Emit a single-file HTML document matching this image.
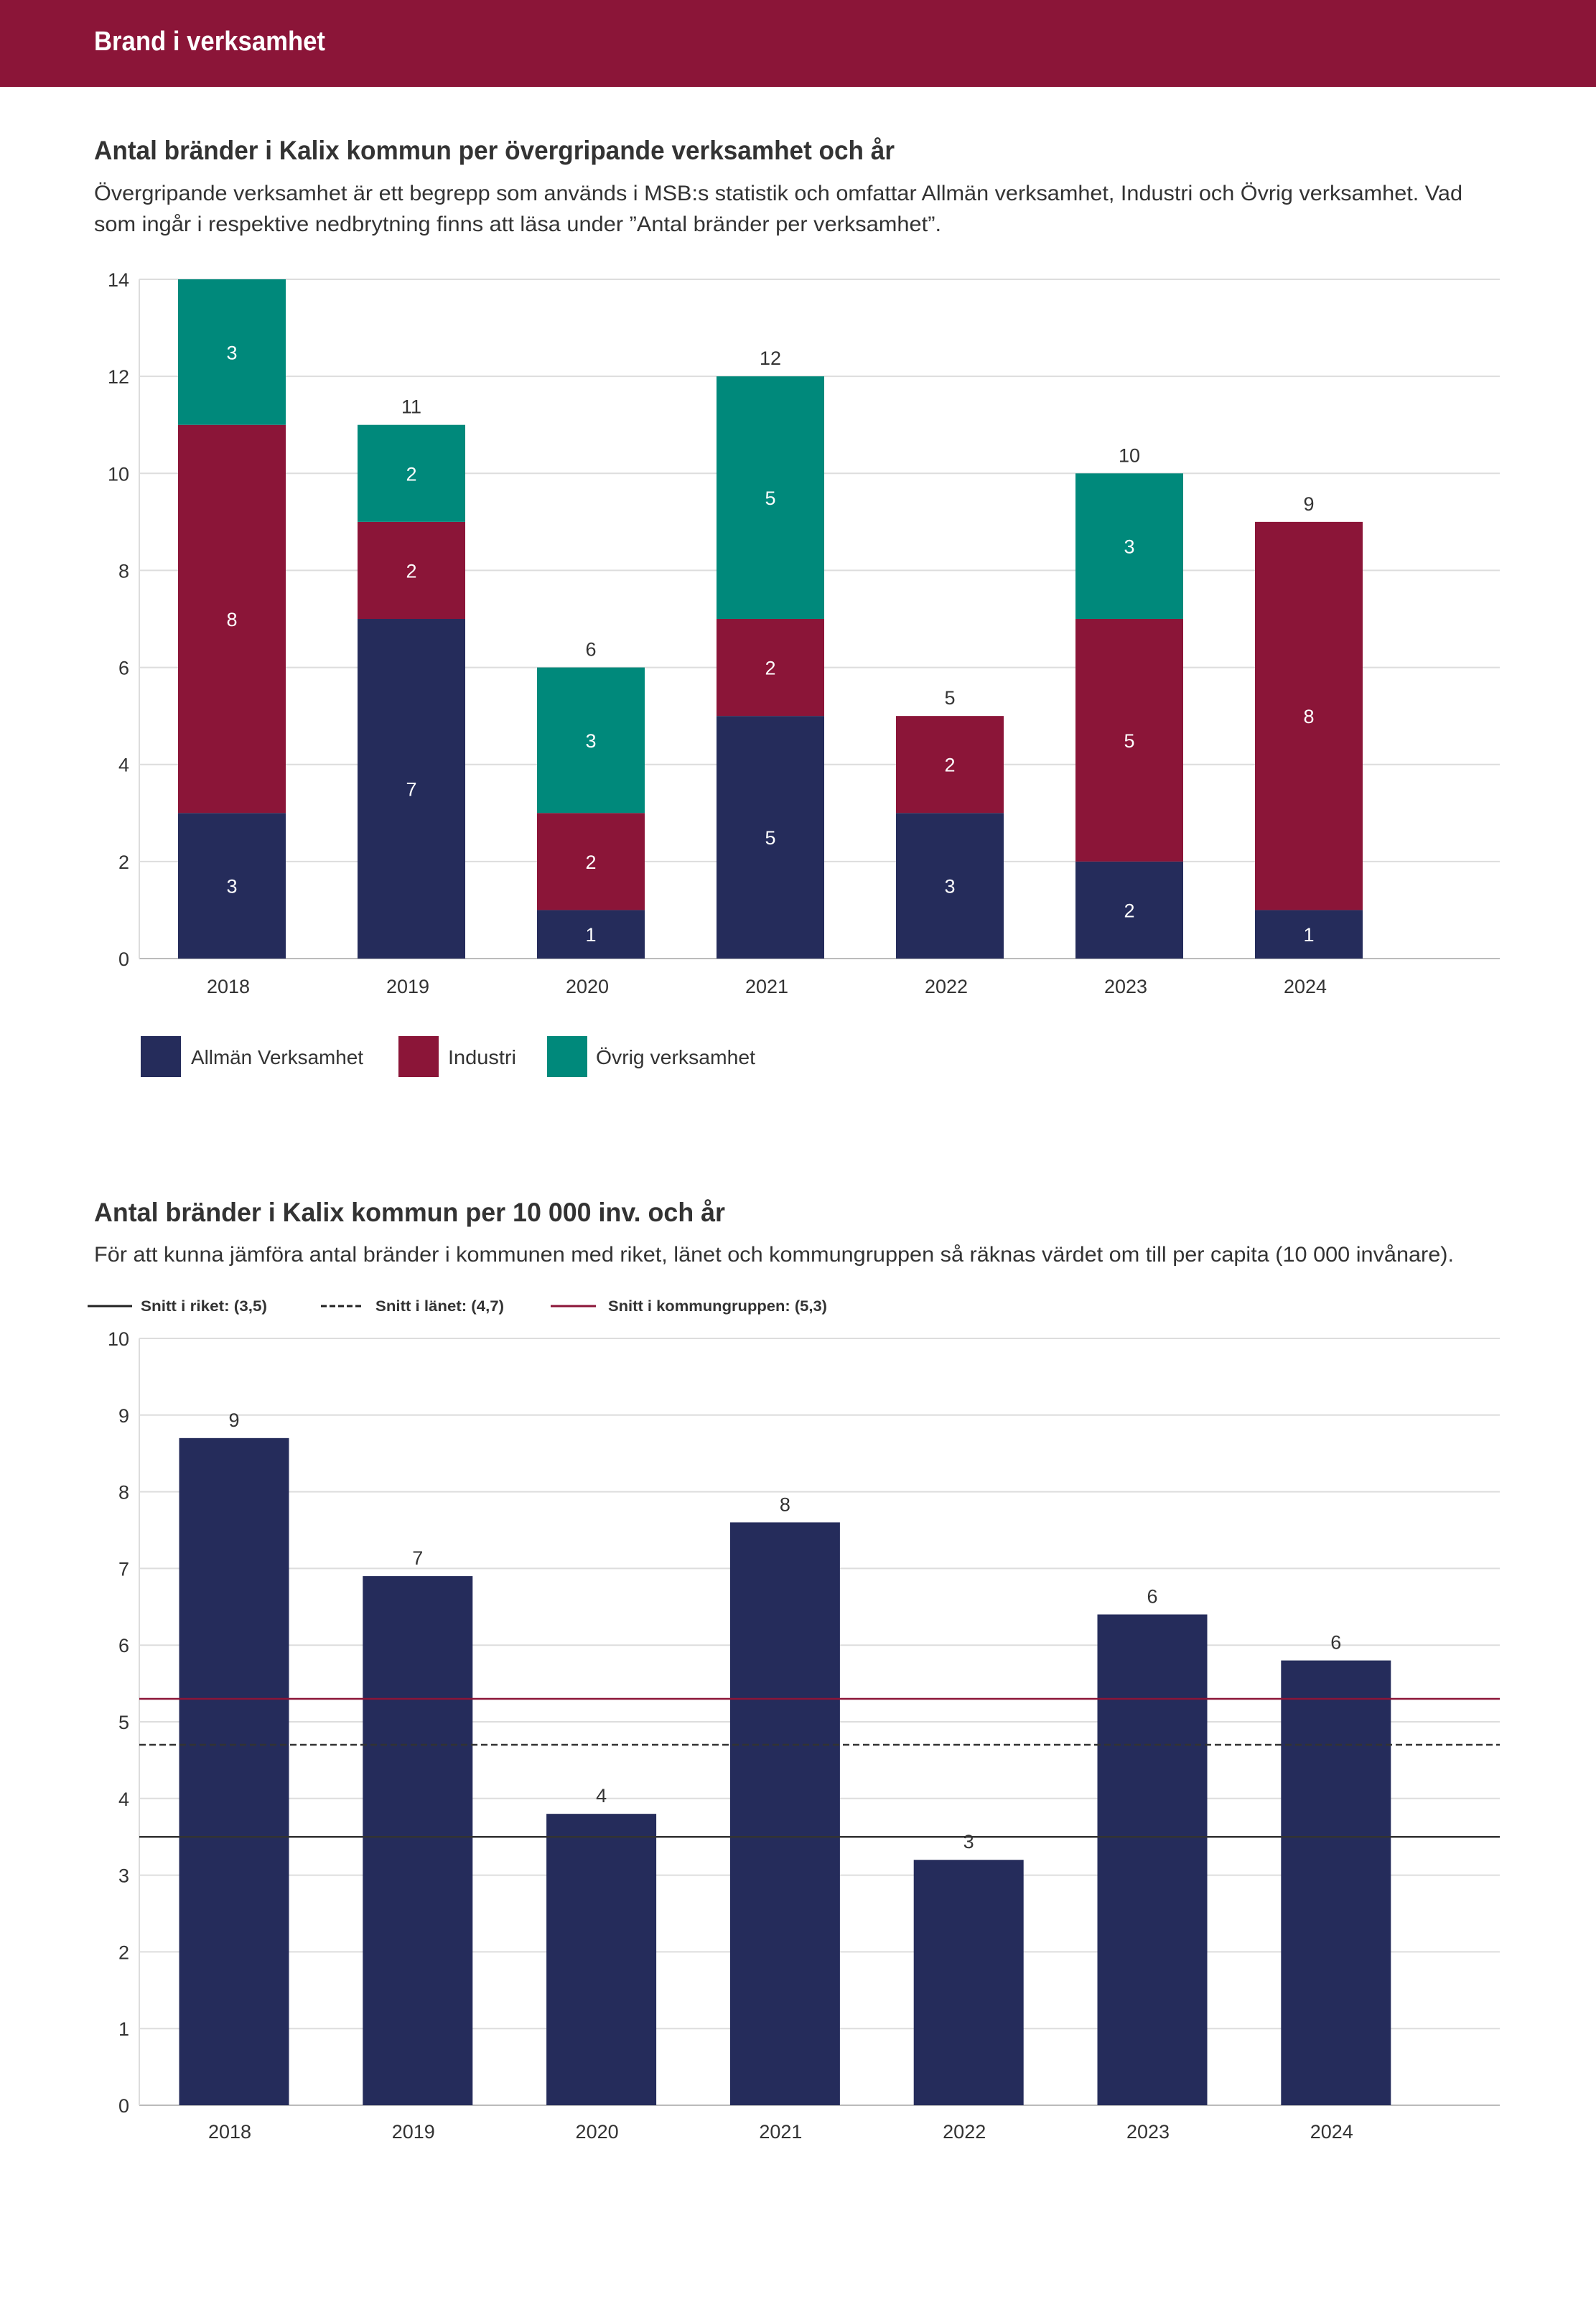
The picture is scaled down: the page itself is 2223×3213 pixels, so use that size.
<!DOCTYPE html>
<html><head><meta charset="utf-8">
<style>
html,body{margin:0;padding:0;background:#fff;}
svg{display:block;font-family:"Liberation Sans",sans-serif;}
</style></head>
<body>
<svg id="page" width="2223" height="3213" viewBox="0 0 2223 3213" xmlns="http://www.w3.org/2000/svg">
<rect x="0" y="0" width="2223" height="121" fill="#8b1538"/>
<text x="131" y="70" font-size="38" font-weight="bold" fill="#fff" textLength="322" lengthAdjust="spacingAndGlyphs">Brand i verksamhet</text>
<text x="131" y="222" font-size="37" font-weight="bold" fill="#333" textLength="1115" lengthAdjust="spacingAndGlyphs">Antal bränder i Kalix kommun per övergripande verksamhet och år</text>
<text x="131" y="279" font-size="30" fill="#333" textLength="1906" lengthAdjust="spacingAndGlyphs">Övergripande verksamhet är ett begrepp som används i MSB:s statistik och omfattar Allmän verksamhet, Industri och Övrig verksamhet. Vad</text>
<text x="131" y="322" font-size="30" fill="#333" textLength="1180" lengthAdjust="spacingAndGlyphs">som ingår i respektive nedbrytning finns att läsa under ”Antal bränder per verksamhet”.</text>
<g id="c1"></g>
<g>
<rect x="196" y="1443" width="56" height="57" fill="#252c5b"/>
<text x="266" y="1482" font-size="28" fill="#333" textLength="240" lengthAdjust="spacingAndGlyphs">Allmän Verksamhet</text>
<rect x="555" y="1443" width="56" height="57" fill="#8b1538"/>
<text x="624" y="1482" font-size="28" fill="#333" textLength="95" lengthAdjust="spacingAndGlyphs">Industri</text>
<rect x="762" y="1443" width="56" height="57" fill="#00897b"/>
<text x="830" y="1482" font-size="28" fill="#333" textLength="222" lengthAdjust="spacingAndGlyphs">Övrig verksamhet</text>
</g>
<text x="131" y="1701" font-size="37" font-weight="bold" fill="#333" textLength="879" lengthAdjust="spacingAndGlyphs">Antal bränder i Kalix kommun per 10 000 inv. och år</text>
<text x="131" y="1757" font-size="30" fill="#333" textLength="1894" lengthAdjust="spacingAndGlyphs">För att kunna jämföra antal bränder i kommunen med riket, länet och kommungruppen så räknas värdet om till per capita (10 000 invånare).</text>
<g>
<line x1="122" y1="1819" x2="184" y2="1819" stroke="#222" stroke-width="3"/>
<text x="196" y="1826" font-size="21" font-weight="bold" fill="#333" textLength="176" lengthAdjust="spacingAndGlyphs">Snitt i riket: (3,5)</text>
<line x1="447" y1="1819" x2="506" y2="1819" stroke="#222" stroke-width="3" stroke-dasharray="8,4"/>
<text x="523" y="1826" font-size="21" font-weight="bold" fill="#333" textLength="179" lengthAdjust="spacingAndGlyphs">Snitt i länet: (4,7)</text>
<line x1="767" y1="1819" x2="830" y2="1819" stroke="#8b1538" stroke-width="3"/>
<text x="847" y="1826" font-size="21" font-weight="bold" fill="#333" textLength="305" lengthAdjust="spacingAndGlyphs">Snitt i kommungruppen: (5,3)</text>
</g>
<g id="c2"></g>
</svg>
<script>
const years = ["2018","2019","2020","2021","2022","2023","2024"];
const allman = [3,7,1,5,3,2,1];
const industri = [8,2,2,2,2,5,8];
const ovrig = [3,2,3,5,0,3,0];
const c1Ticks = [0,2,4,6,8,10,12,14];
const perCapita = [8.7,6.9,3.8,7.6,3.2,6.4,5.8];
const perCapitaLabels = ["9","7","4","8","3","6","6"];
const c2Ticks = [0,1,2,3,4,5,6,7,8,9,10];
const avgRiket = 3.5;
const avgLanet = 4.7;
const avgKommungrupp = 5.3;

const NS = "http://www.w3.org/2000/svg";
function mk(parent, tag, attrs, txt){
  const e = document.createElementNS(NS, tag);
  for (const k in attrs) e.setAttribute(k, attrs[k]);
  if (txt !== undefined) e.textContent = txt;
  parent.appendChild(e);
  return e;
}

// Chart 1
(function(){
  const g = document.getElementById('c1');
  const x0 = 194, x1 = 2089, yBase = 1335, yTop = 389, vMax = 14;
  const y = v => yBase - (v / vMax) * (yBase - yTop);
  const xc = i => 323 + i * 250;
  const bw = 150;
  c1Ticks.forEach(t => {
    const ln = mk(g, 'line', {x1:x0, x2:x1, y1:y(t), y2:y(t), stroke: t===0?'#bbb':'#ddd', 'stroke-width':2});
    
    
    const tx = mk(g, 'text', {x:180, y:y(t)+10, 'font-size':27, fill:'#333', 'text-anchor':'end'}, String(t));
    
    
  });
  const ax = mk(g, 'line', {x1:x0, x2:x0, y1:yTop, y2:yBase, stroke:'#ddd', 'stroke-width':2});
  
  
  const series = [[allman,'#252c5b','allman'],[industri,'#8b1538','industri'],[ovrig,'#00897b','ovrig']];
  years.forEach((yr, i) => {
    let acc = 0;
    series.forEach(([arr, col, nm]) => {
      const v = arr[i];
      if (v > 0) {
        const r = mk(g, 'rect', {x:xc(i)-bw/2, y:y(acc+v), width:bw, height:y(acc)-y(acc+v), fill:col});
        
        
        const t = mk(g, 'text', {x:xc(i), y:(y(acc)+y(acc+v))/2+10, 'font-size':27, fill:'#fff', 'text-anchor':'middle'}, String(v));
        
        
      }
      acc += v;
    });
    if (acc < vMax) {
      const tl = mk(g, 'text', {x:xc(i), y:y(acc)-16, 'font-size':27, fill:'#333', 'text-anchor':'middle'}, String(acc));
      
      
    }
    const xl = mk(g, 'text', {x:xc(i)-5, y:1383, 'font-size':27, fill:'#333', 'text-anchor':'middle'}, yr);
    
    
  });
})();

// Chart 2
(function(){
  const g = document.getElementById('c2');
  const x0 = 194, x1 = 2089, yBase = 2932, yTop = 1864, vMax = 10;
  const y = v => yBase - (v / vMax) * (yBase - yTop);
  const xc = i => 326 + i * 255.8;
  const bw = 153;
  c2Ticks.forEach(t => {
    const ln = mk(g, 'line', {x1:x0, x2:x1, y1:y(t), y2:y(t), stroke: t===0?'#bbb':'#ddd', 'stroke-width':2});
    
    
    const tx = mk(g, 'text', {x:180, y:y(t)+10, 'font-size':27, fill:'#333', 'text-anchor':'end'}, String(t));
    
    
  });
  const ax = mk(g, 'line', {x1:x0, x2:x0, y1:yTop, y2:yBase, stroke:'#ddd', 'stroke-width':2});
  
  
  years.forEach((yr, i) => {
    const v = perCapita[i];
    const r = mk(g, 'rect', {x:xc(i)-bw/2, y:y(v), width:bw, height:yBase-y(v), fill:'#252c5b'});
    
    
    const t = mk(g, 'text', {x:xc(i), y:y(v)-16, 'font-size':27, fill:'#333', 'text-anchor':'middle'}, perCapitaLabels[i]);
    
    
    const xl = mk(g, 'text', {x:xc(i)-6, y:2978, 'font-size':27, fill:'#333', 'text-anchor':'middle'}, yr);
    
    
  });
  const l1 = mk(g, 'line', {x1:x0, x2:x1, y1:y(avgKommungrupp), y2:y(avgKommungrupp), stroke:'#8b1538', 'stroke-width':2.5});
  
  
  const l2 = mk(g, 'line', {x1:x0, x2:x1, y1:y(avgLanet), y2:y(avgLanet), stroke:'#333', 'stroke-width':2.5, 'stroke-dasharray':'9,5'});
  
  
  const l3 = mk(g, 'line', {x1:x0, x2:x1, y1:y(avgRiket), y2:y(avgRiket), stroke:'#333', 'stroke-width':2.5});
  
  
})();
</script>
</body></html>
